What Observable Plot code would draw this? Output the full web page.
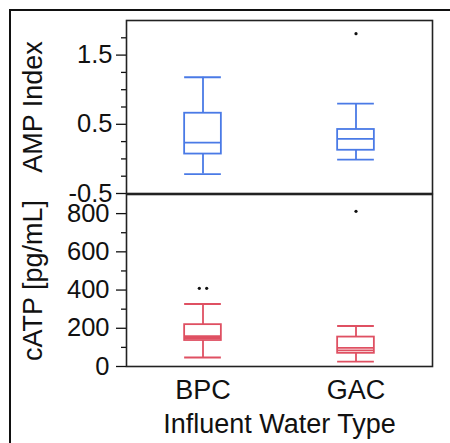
<!DOCTYPE html>
<html>
<head>
<meta charset="utf-8">
<script src="https://cdn.jsdelivr.net/npm/d3@7"></script>
<script src="https://cdn.jsdelivr.net/npm/@observablehq/plot@0.6"></script>
<style>
  html, body { margin: 0; padding: 0; background: #fff; }
  #chart { position: relative; width: 450px; height: 443px; overflow: hidden; background: #fff; }
  #chart > svg { position: absolute; left: 0; top: 0; }
  #border { position: absolute; left: 9px; top: 9px; width: 460px; height: 460px;
            border-top: 2px solid #111; border-left: 2px solid #111; }
</style>
</head>
<body>
<div id="chart"><div id="border"></div></div>
<script>
// Influent water types (x categories)
const categories = ["BPC", "GAC"];

// AMP Index box summaries, one value per category
const ampLow    = [-0.22, -0.01];
const ampQ1     = [0.07, 0.125];
const ampMedian = [0.235, 0.29];
const ampQ3     = [0.66, 0.425];
const ampHigh   = [1.18, 0.80];
const ampOutlierCat = ["GAC"];
const ampOutlierVal = [1.81];
const ampMajorTicks = [-0.5, 0.5, 1.5];
const ampMinorTicks = [-0.25, 0, 0.25, 0.75, 1, 1.25, 1.75];

// cATP [pg/mL] box summaries, one value per category
const atpLow    = [47, 25];
const atpQ1     = [136, 69];
const atpMedian = [149, 84];
const atpMean   = [159, 97];
const atpQ3     = [219, 154];
const atpHigh   = [327, 212];
const atpOutlierCat = ["BPC", "BPC", "GAC"];
const atpOutlierVal = [409, 409, 812];
const atpMajorTicks = [0, 200, 400, 600, 800];
const atpMinorTicks = [100, 300, 500, 700];

const ampTitle = "AMP Index";
const atpTitle = "cATP [pg/mL]";
const xTitle = "Influent Water Type";

const blue = "#4a7ae6";
const red = "#df5062";
const ink = "#111";
const font = "Liberation Sans, Arial, Helvetica, sans-serif";
const tickFont = 25.5;
const titleFont = 27;
const halfWidth = 0.12;   // half box width, in category units
const jitter = 0.048;     // spacing between tied outliers

const boxRows = (cols) => categories.map((cat, i) => {
  const row = {cat, i};
  for (const [k, arr] of Object.entries(cols)) row[k] = arr[i];
  return row;
});

// tied outliers in the same category are spread side by side
const outlierRows = (cats, vals) => cats.map((cat, j) => {
  const same = cats.map((c, k) => k).filter(k => cats[k] === cat && vals[k] === vals[j]);
  const rank = same.indexOf(j);
  return {cat, value: vals[j], pos: categories.indexOf(cat) + (rank - (same.length - 1) / 2) * jitter};
});

function boxMarks(rows, color, extraLines) {
  const x1 = d => d.i - halfWidth, x2 = d => d.i + halfWidth;
  const line = {stroke: color, strokeWidth: 1.8};
  return [
    Plot.ruleX(rows, {x: "i", y1: "low", y2: "q1", ...line}),
    Plot.ruleX(rows, {x: "i", y1: "q3", y2: "high", ...line}),
    Plot.ruleY(rows, {y: "low", x1, x2, ...line}),
    Plot.ruleY(rows, {y: "high", x1, x2, ...line}),
    Plot.rect(rows, {x1, x2, y1: "q1", y2: "q3", fill: "none", ...line}),
    ...extraLines.map(k => Plot.ruleY(rows, {y: k, x1, x2, ...line}))
  ];
}

function yAxisMarks(major, minor, fmt, pad) {
  return [
    Plot.axisY(minor, {tickSize: 5, tickFormat: () => "", stroke: ink, strokeWidth: 1.3}),
    Plot.axisY(major, {tickSize: 10, tickPadding: pad, tickFormat: fmt, stroke: ink, strokeWidth: 1.3,
                       fill: ink, fontSize: tickFont})
  ];
}

// rotated title centred on the panel's left side
const yTitle = (label) => Plot.text([label], {
  text: d => d, frameAnchor: "left", textAnchor: "middle", lineAnchor: "middle",
  dx: -93, rotate: -90, fontSize: titleFont, fill: ink
});

const common = {
  width: 450, height: 443, marginLeft: 126, marginRight: 18,
  style: {fontFamily: font, fontSize: "26px", background: "transparent", overflow: "visible"},
  x: {type: "linear", domain: [-0.5, 1.5], axis: null}
};

const ampRows = boxRows({low: ampLow, q1: ampQ1, median: ampMedian, q3: ampQ3, high: ampHigh});
const atpRows = boxRows({low: atpLow, q1: atpQ1, median: atpMedian, mean: atpMean, q3: atpQ3, high: atpHigh});

const ampPanel = Plot.plot({
  ...common,
  marginTop: 20, marginBottom: 250,
  y: {domain: [-0.5, 2.0], axis: null},
  marks: [
    ...yAxisMarks(ampMajorTicks, ampMinorTicks, d => d3.format(".1f")(d).replace("−", "-"), 4),
    ...boxMarks(ampRows, blue, ["median"]),
    Plot.dot(outlierRows(ampOutlierCat, ampOutlierVal), {x: "pos", y: "value", r: 1.6, fill: ink}),
    yTitle(ampTitle),
    Plot.frame({stroke: "#222", strokeWidth: 1.6})
  ]
});

const atpPanel = Plot.plot({
  ...common,
  marginTop: 194, marginBottom: 77,
  y: {domain: [0, 900], axis: null},
  marks: [
    ...yAxisMarks(atpMajorTicks, atpMinorTicks, d => String(d), 7),
    Plot.axisX([0, 1], {tickSize: 0, tickPadding: 13, tickFormat: i => categories[i], fontSize: titleFont, fill: ink}),
    ...boxMarks(atpRows, red, ["median", "mean"]),
    Plot.dot(outlierRows(atpOutlierCat, atpOutlierVal), {x: "pos", y: "value", r: 1.6, fill: ink}),
    yTitle(atpTitle),
    Plot.text([xTitle], {text: d => d, frameAnchor: "bottom", textAnchor: "middle", lineAnchor: "middle",
                         dy: 58, fontSize: titleFont, fill: ink}),
    Plot.frame({stroke: "#222", strokeWidth: 1.6})
  ]
});

const chart = document.getElementById("chart");
chart.appendChild(ampPanel);
chart.appendChild(atpPanel);
</script>
</body>
</html>
